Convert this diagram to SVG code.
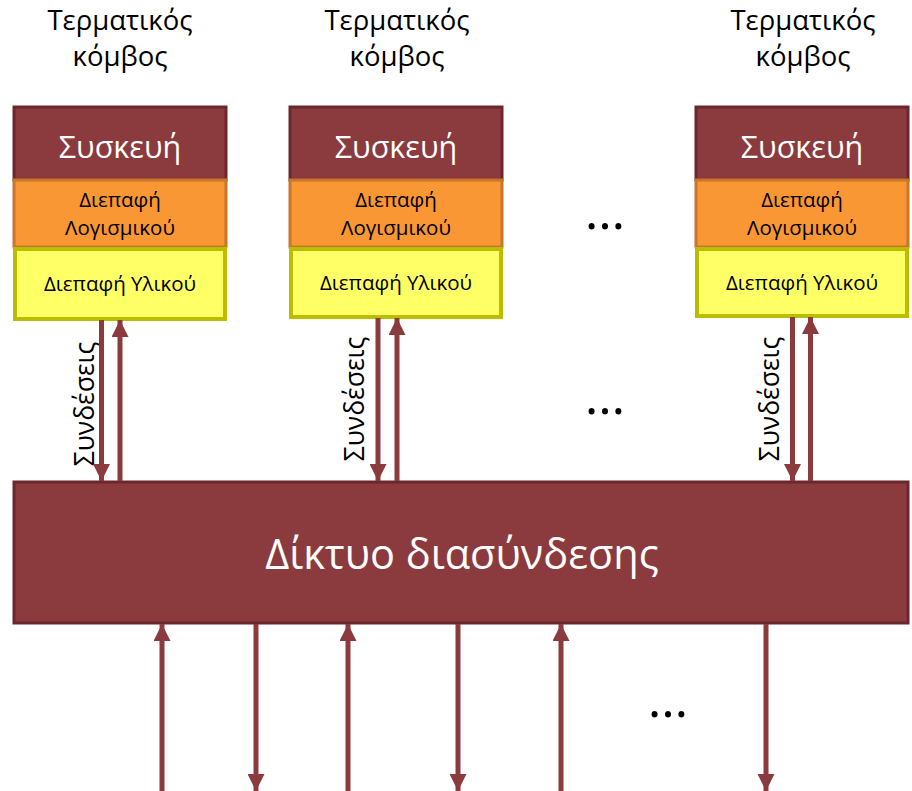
<svg xmlns="http://www.w3.org/2000/svg" width="912" height="791" viewBox="0 0 912 791">
<defs>
<marker id="ah" viewBox="0 0 10 10" refX="10" refY="5" markerWidth="3.4" markerHeight="3.4" markerUnits="strokeWidth" orient="auto">
<path d="M0,0 L10,5 L0,10 z" fill="#8B3A3E"/>
</marker>
<style>
.t{font-family:"Open Sans","Liberation Sans",sans-serif;}
.title{font-size:27.5px;fill:#000;text-anchor:middle;}
.dev{fill:#8B3A3E;stroke:#6B282C;stroke-width:3;}
.sw{fill:#F89734;stroke:#C7772D;stroke-width:3;}
.hw{fill:#FFFF66;stroke:#BDBD00;stroke-width:4;}
.devt{font-size:30.5px;fill:#fff;text-anchor:middle;}
.st{font-size:20.5px;fill:#000;text-anchor:middle;}
.ln{stroke:#8B3A3E;stroke-width:5;fill:none;marker-end:url(#ah);}
.lbl{font-size:26.5px;fill:#000;text-anchor:middle;}
.dots{font-size:52px;fill:#000;text-anchor:middle;}
</style>
</defs>
<rect width="912" height="791" fill="#fff"/>

<g id="node1">
<text class="t title" x="120" y="30">Τερματικός</text>
<text class="t title" x="120" y="66">κόμβος</text>
<rect class="dev" x="14" y="107" width="212" height="73"/>
<text class="t devt" x="120" y="158">Συσκευή</text>
<rect class="sw" x="14" y="180" width="212" height="67"/>
<text class="t st" x="120" y="207">Διεπαφή</text>
<text class="t st" x="120" y="235">Λογισμικού</text>
<rect class="hw" x="15" y="249" width="210" height="70"/>
<text class="t st" x="120" y="291">Διεπαφή Υλικού</text>
</g>

<g id="node2">
<text class="t title" x="397" y="30">Τερματικός</text>
<text class="t title" x="397" y="66">κόμβος</text>
<rect class="dev" x="290" y="107" width="212" height="73"/>
<text class="t devt" x="396" y="158">Συσκευή</text>
<rect class="sw" x="290" y="180" width="212" height="67"/>
<text class="t st" x="396" y="207">Διεπαφή</text>
<text class="t st" x="396" y="235">Λογισμικού</text>
<rect class="hw" x="291" y="249" width="210" height="68"/>
<text class="t st" x="396" y="290">Διεπαφή Υλικού</text>
</g>

<g id="node3">
<text class="t title" x="803" y="30">Τερματικός</text>
<text class="t title" x="803" y="66">κόμβος</text>
<rect class="dev" x="696" y="107" width="212" height="73"/>
<text class="t devt" x="802" y="158">Συσκευή</text>
<rect class="sw" x="696" y="180" width="212" height="67"/>
<text class="t st" x="802" y="207">Διεπαφή</text>
<text class="t st" x="802" y="235">Λογισμικού</text>
<rect class="hw" x="697" y="249" width="210" height="67"/>
<text class="t st" x="802" y="290">Διεπαφή Υλικού</text>
</g>

<g id="network">
<rect class="dev" x="14" y="482" width="894" height="141"/>
<text class="t" x="462" y="569" font-size="41.5" fill="#fff" text-anchor="middle">Δίκτυο διασύνδεσης</text>
</g>

<g id="dots">
<text class="t dots" x="605" y="229">…</text>
<text class="t dots" x="605" y="414">…</text>
<text class="t dots" x="668" y="717">…</text>
</g>

<g id="labels">
<text class="t lbl" transform="translate(94,404) rotate(-90)">Συνδέσεις</text>
<text class="t lbl" transform="translate(364,399) rotate(-90)">Συνδέσεις</text>
<text class="t lbl" transform="translate(779,399) rotate(-90)">Συνδέσεις</text>
</g>

<g id="connectors">
<line class="ln" x1="101.5" y1="320" x2="101.5" y2="481"/>
<line class="ln" x1="120" y1="481" x2="120" y2="320"/>
<line class="ln" x1="378" y1="318" x2="378" y2="481"/>
<line class="ln" x1="397" y1="481" x2="397" y2="318"/>
<line class="ln" x1="792.5" y1="317" x2="792.5" y2="481"/>
<line class="ln" x1="810.5" y1="481" x2="810.5" y2="317"/>
<line class="ln" x1="162" y1="791" x2="162" y2="624"/>
<line class="ln" x1="256" y1="624" x2="256" y2="791"/>
<line class="ln" x1="348" y1="791" x2="348" y2="624"/>
<line class="ln" x1="458" y1="624" x2="458" y2="791"/>
<line class="ln" x1="561" y1="791" x2="561" y2="624"/>
<line class="ln" x1="766" y1="624" x2="766" y2="791"/>
</g>
</svg>
